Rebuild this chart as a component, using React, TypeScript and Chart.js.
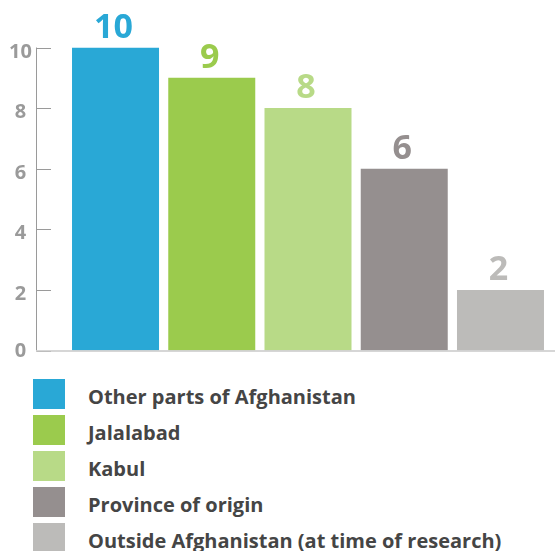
import React, { useEffect, useRef } from "react";
import { Chart, registerables } from "chart.js";

Chart.register(...registerables);

const categories = [
  "Other parts of Afghanistan",
  "Jalalabad",
  "Kabul",
  "Province of origin",
  "Outside Afghanistan (at time of research)",
];
const values = [10, 9, 8, 6, 2];
const colors = ["#29a8d6", "#9bcb4d", "#b8da87", "#958f8f", "#bcbbb9"];
const yTicks = [0, 2, 4, 6, 8, 10];

const FONT = "'Open Sans', 'DejaVu Sans', sans-serif";

const decorPlugin = {
  id: "decor",
  afterDatasetsDraw(chart: any) {
    const ctx = chart.ctx;
    const y = chart.scales.y;
    const axisX = 36.5;
    ctx.save();
    // y axis line
    ctx.strokeStyle = "#9a9a9a";
    ctx.lineWidth = 1;
    ctx.beginPath();
    ctx.moveTo(axisX, y.getPixelForValue(10));
    ctx.lineTo(axisX, y.getPixelForValue(0));
    ctx.stroke();
    // tick marks and tick labels
    ctx.font = `bold 20px ${FONT}`;
    ctx.textAlign = "center";
    ctx.textBaseline = "middle";
    yTicks.forEach((t) => {
      const py = Math.round(y.getPixelForValue(t)) + 0.5;
      ctx.beginPath();
      ctx.moveTo(axisX, py);
      ctx.lineTo(51, py);
      ctx.stroke();
      ctx.fillStyle = "#9a9a9a";
      ctx.fillText(String(t), 20.5, py + (t === 0 ? 0 : 4));
    });
    // baseline
    ctx.strokeStyle = "#c8c8c8";
    ctx.lineWidth = 1.5;
    const by = y.getPixelForValue(0) + 0.5;
    ctx.beginPath();
    ctx.moveTo(axisX, by);
    ctx.lineTo(chart.width, by);
    ctx.stroke();
    // value labels
    const meta = chart.getDatasetMeta(0);
    ctx.font = `bold 34px ${FONT}`;
    ctx.textAlign = "center";
    ctx.textBaseline = "alphabetic";
    meta.data.forEach((bar: any, i: number) => {
      ctx.fillStyle = colors[i];
      ctx.fillText(String(values[i]), bar.x - 2, bar.y - 10);
    });
    ctx.restore();
  },
};

export default function App() {
  const ref = useRef<HTMLCanvasElement>(null);
  useEffect(() => {
    if (!ref.current) return;
    const chart = new Chart(ref.current, {
      type: "bar",
      data: {
        labels: categories,
        datasets: [
          {
            data: values,
            backgroundColor: colors,
            borderWidth: 0,
            categoryPercentage: 1,
            barPercentage: 0.904,
          },
        ],
      },
      options: {
        animation: false,
        responsive: false,
        maintainAspectRatio: false,
        layout: { padding: { top: 47.5, right: 6.4, bottom: 11.5, left: 0 } },
        plugins: { legend: { display: false }, tooltip: { enabled: false } },
        scales: {
          x: { display: false },
          y: {
            min: 0,
            max: 10,
            afterFit: (s: any) => {
              s.width = 67.4;
            },
            grid: { display: false, drawTicks: false },
            border: { display: false },
            ticks: { display: false, stepSize: 2 },
          },
        },
      },
      plugins: [decorPlugin],
    });
    return () => chart.destroy();
  }, []);

  return (
    <div
      style={{
        position: "fixed",
        left: 0,
        top: 0,
        width: 555,
        height: 551,
        background: "#fff",
        overflow: "hidden",
      }}
    >
      <canvas ref={ref} width={555} height={362} style={{ display: "block" }} />
      {categories.map((c, i) => (
        <div
          key={c}
          style={{
            position: "absolute",
            left: 33,
            top: 379 + i * 36,
            height: 30,
            display: "flex",
            alignItems: "center",
            whiteSpace: "nowrap",
          }}
        >
          <div style={{ width: 32, height: 30, background: colors[i] }} />
          <span
            style={{
              marginLeft: 23,
              position: "relative",
              top: 2,
              fontFamily: FONT,
              fontWeight: "bold",
              fontSize: 20,
              color: "#454545",
            }}
          >
            {c}
          </span>
        </div>
      ))}
    </div>
  );
}
